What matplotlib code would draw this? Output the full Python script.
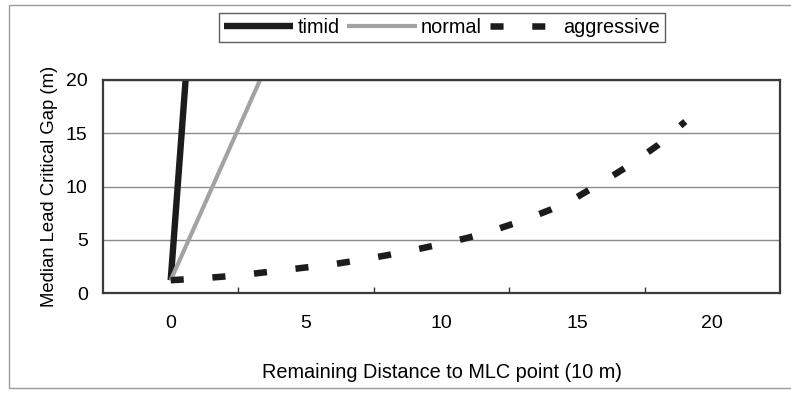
import matplotlib
matplotlib.use("Agg")
import matplotlib.pyplot as plt
from matplotlib.patches import Rectangle

plt.rcParams['font.family'] = ['Liberation Sans', 'DejaVu Sans']

# values
timid_x = [0.0, 0.55]
timid_y = [1.2, 20.0]

normal_x = [0.0, 3.3]
normal_y = [1.2, 20.0]

aggressive_x = [0, 1, 2, 3, 4, 5, 6, 7, 8, 9, 10, 11, 12, 13, 14, 15, 16, 17, 18, 19]
aggressive_y = [1.2, 1.35, 1.55, 1.8, 2.1, 2.4, 2.7, 3.1, 3.55, 4.05, 4.6, 5.2,
                5.95, 6.8, 7.8, 9.0, 10.5, 12.1, 13.9, 16.1]

x_ticks = [0, 5, 10, 15, 20]
y_ticks = [0, 5, 10, 15, 20]

fig = plt.figure(figsize=(7.91, 3.93), dpi=100)
ax = fig.add_axes([103 / 791, 1 - 293 / 393, 677 / 791, 213 / 393])

# outer chart border (right edge is outside the picture)
fig.patches.append(Rectangle((9 / 791, 1 - 388 / 393), 1.0, 383 / 393,
                             transform=fig.transFigure, fill=False,
                             edgecolor='#9a9a9a', lw=1.0, clip_on=False))

ax.plot(timid_x, timid_y, color='#1c1c1c', lw=4.6, solid_capstyle='butt', label='timid')
ax.plot(normal_x, normal_y, color='#a3a3a3', lw=3.0, solid_capstyle='butt', label='normal')
agg, = ax.plot(aggressive_x, aggressive_y, color='#1c1c1c', lw=4.7,
               dash_capstyle='butt', label='aggressive')
agg.set_dashes((2.0, 4.4))

ax.set_xlim(-2.5, 22.5)
ax.set_ylim(0, 20)
ax.set_xticks(x_ticks)
ax.set_xticks([2.5, 7.5, 12.5, 17.5], minor=True)
ax.set_yticks(y_ticks)
ax.tick_params(axis='x', which='major', length=0, pad=16, labelsize=14)
ax.tick_params(axis='x', which='minor', direction='in', length=4, width=1, color='#333333')
ax.tick_params(axis='y', length=0, pad=11, labelsize=14)

ax.grid(axis='y', color='#8a8a8a', lw=1.0)
ax.set_axisbelow(True)
for s in ax.spines.values():
    s.set_color('#3a3a3a')
    s.set_linewidth(1.6)

ax.set_xlabel('Remaining Distance to MLC point (10 m)', fontsize=14.3, labelpad=22)
ax.set_ylabel('Median Lead Critical Gap (m)', fontsize=13.3, labelpad=6)

leg = fig.legend(loc='center', bbox_to_anchor=(442 / 791, 1 - 27.5 / 393), ncol=3,
                 fontsize=14.3, handlelength=3.5, handletextpad=0.2, columnspacing=0.4,
                 borderpad=0.25, borderaxespad=0, fancybox=False, frameon=True)
leg.get_frame().set_edgecolor('#333333')
leg.get_frame().set_linewidth(1.0)

fig.savefig('out.png', dpi=100)
